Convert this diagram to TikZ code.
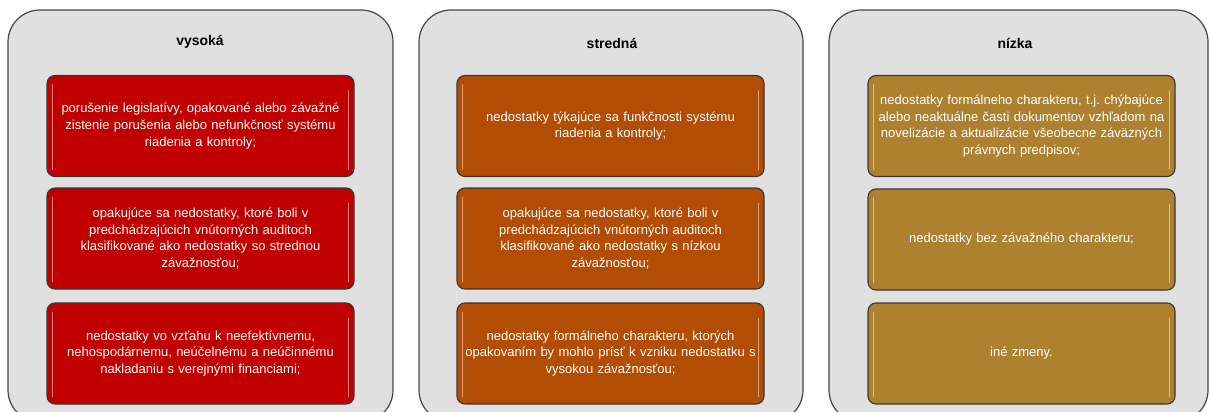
\documentclass[tikz,border=0pt]{standalone}
\usepackage{fontspec}
\setmainfont{Liberation Sans}
\usetikzlibrary{calc}
\definecolor{vred}{RGB}{192,0,0}
\definecolor{vorange}{RGB}{179,77,3}
\definecolor{vgold}{RGB}{173,129,48}
\definecolor{panelfill}{RGB}{224,224,224}
\definecolor{paneldraw}{RGB}{70,70,70}
\definecolor{boxdraw}{RGB}{55,55,55}
\frenchspacing
\tikzset{
  panel/.style={draw=paneldraw, line width=1.2pt, fill=panelfill, rounded corners=32pt, inner sep=0pt},
  paneltitle/.style={font=\bfseries\fontsize{14}{16}\selectfont, text=black, inner sep=0pt},
  itembox/.style={draw=boxdraw, line width=1.1pt, rounded corners=8pt, minimum width=307pt, minimum height=101pt,
    text width=300pt, align=center, text=white, font=\fontsize{13}{16.7}\selectfont, inner sep=0pt},
  redbox/.style={itembox, fill=vred},
  orangebox/.style={itembox, fill=vorange},
  goldbox/.style={itembox, fill=vgold},
  gloss/.style={line width=1.8pt, line cap=round, draw=white, opacity=0.5}
}
\begin{document}
\begin{tikzpicture}[x=1pt,y=-1pt]
\useasboundingbox (0,0) rectangle (1210,412);
\clip (0,0) rectangle (1210,412);
% panels
\node[panel, minimum width=385pt, minimum height=412pt] (p1) at (200.5,216) {};
\node[panel, minimum width=384pt, minimum height=412pt] (p2) at (611,216) {};
\node[panel, minimum width=379pt, minimum height=412pt] (p3) at (1018.5,216) {};
% titles
\node[paneltitle] (t1) at (200,42) {vysoká};
\node[paneltitle] (t2) at (612,43) {stredná};
\node[paneltitle] (t3) at (1015,43) {nízka};
% column 1
\node[redbox] (a1) at (200.5,126) {porušenie legislatívy, opakované alebo závažné\\zistenie porušenia alebo nefunkčnosť systému\\riadenia a kontroly;};
\node[redbox] (a2) at (200.5,238.5) {opakujúce sa nedostatky, ktoré boli v\\predchádzajúcich vnútorných auditoch\\klasifikované ako nedostatky so strednou\\závažnosťou;};
\node[redbox] (a3) at (200.5,353.5) {nedostatky vo vzťahu k neefektívnemu,\\nehospodárnemu, neúčelnému a neúčinnému\\nakladaniu s verejnými financiami;};
% column 2
\node[orangebox] (b1) at (610.5,126) {nedostatky týkajúce sa funkčnosti systému\\riadenia a kontroly;};
\node[orangebox] (b2) at (610.5,238.5) {opakujúce sa nedostatky, ktoré boli v\\predchádzajúcich vnútorných auditoch\\klasifikované ako nedostatky s nízkou\\závažnosťou;};
\node[orangebox] (b3) at (610.5,353.5) {nedostatky formálneho charakteru, ktorých\\opakovaním by mohlo prísť k vzniku nedostatku s\\vysokou závažnosťou;};
% column 3
\node[goldbox] (c1) at (1021.5,126) {nedostatky formálneho charakteru, t.j.\ chýbajúce\\alebo neaktuálne časti dokumentov vzhľadom na\\novelizácie a aktualizácie všeobecne záväzných\\právnych predpisov;};
\node[goldbox] (c2) at (1021.5,239.5) {nedostatky bez závažného charakteru;};
\node[goldbox] (c3) at (1021.5,353.5) {iné zmeny.};
% gloss highlights
\foreach \n in {a1,a2,a3,b1,b2,b3,c1,c2,c3}{
  \draw[gloss] ($(\n.north west)+(6,10)$) -- ($(\n.south west)+(6,-8)$);
  \draw[gloss] ($(\n.north east)+(-6,16)$) -- ($(\n.south east)+(-6,-8)$);
}
\end{tikzpicture}
\end{document}
